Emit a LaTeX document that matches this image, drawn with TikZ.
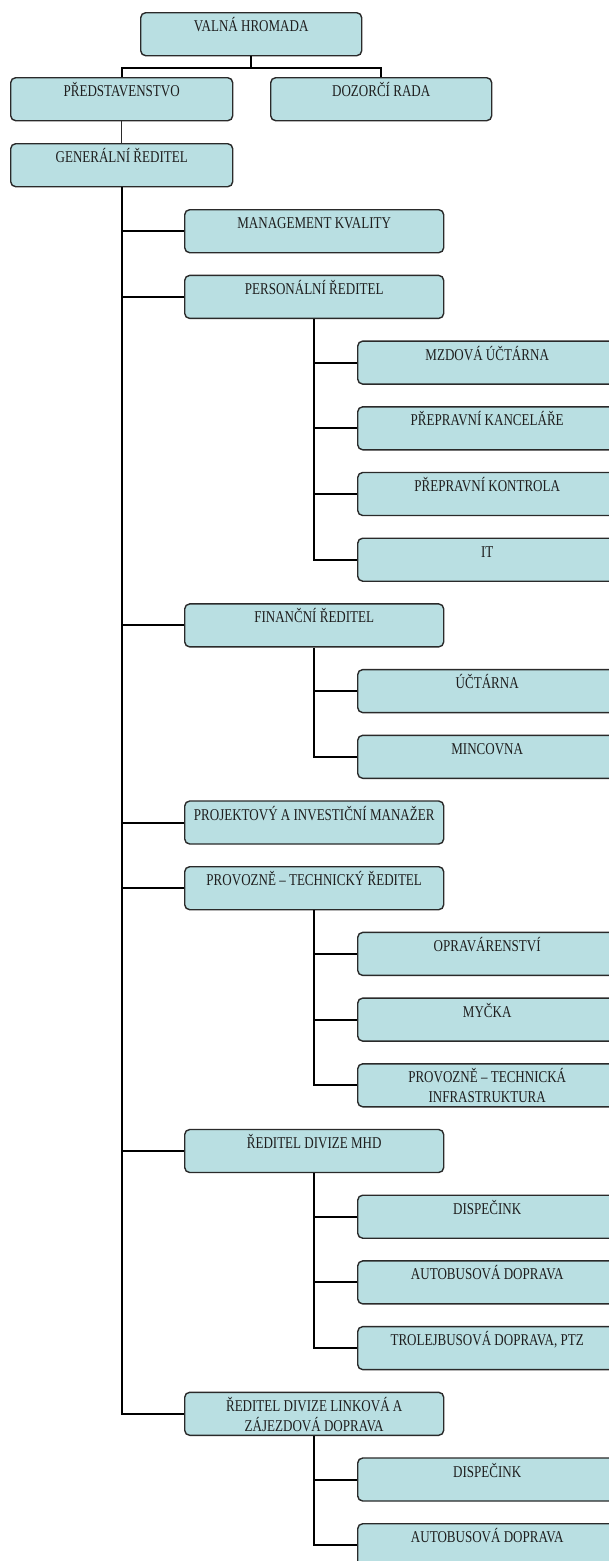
\documentclass[tikz,border=0pt]{standalone}
\usepackage{fontspec}
\setmainfont{Liberation Serif}[FakeStretch=0.79]
\definecolor{boxfill}{HTML}{B9DFE2}
\definecolor{boxline}{HTML}{2A2A2A}
\definecolor{txt}{HTML}{1E1E1E}
\tikzset{
  orgbox/.style={draw=boxline, line width=1.4pt, fill=boxfill, rounded corners=5pt,
    inner sep=0pt, minimum height=43pt, anchor=north west, text=txt},
  conn/.style={draw=black, line width=2pt},
}
\newcommand\orgbox[5]{%
  \node[orgbox, minimum width=#4pt] (#1) at (#2,#3)
  {\parbox[t][43pt][t]{#4pt}{\fontsize{16.5}{20}\selectfont\centering\rule{0pt}{19pt}#5}};}
\begin{document}
\begin{tikzpicture}[x=1pt,y=-1pt]
\useasboundingbox (0,0) rectangle (609,1561);
% top
\orgbox{valna}{140}{12}{221}{VALNÁ HROMADA}
\orgbox{pred}{10}{77}{222}{PŘEDSTAVENSTVO}
\orgbox{doz}{270}{77}{221}{DOZORČÍ RADA}
\orgbox{gen}{10}{143}{222}{GENERÁLNÍ ŘEDITEL}
% main column
\orgbox{mk}{184}{209}{259}{MANAGEMENT KVALITY}
\orgbox{pers}{184}{274.7}{259}{PERSONÁLNÍ ŘEDITEL}
\orgbox{fin}{184}{603.2}{259}{FINANČNÍ ŘEDITEL}
\orgbox{proj}{184}{800.3}{259}{PROJEKTOVÝ A INVESTIČNÍ MANAŽER}
\orgbox{prov}{184}{866}{259}{PROVOZNĚ – TECHNICKÝ ŘEDITEL}
\orgbox{mhd}{184}{1128.8}{259}{ŘEDITEL DIVIZE MHD}
\orgbox{lin}{184}{1391.6}{259}{ŘEDITEL DIVIZE LINKOVÁ A\\ZÁJEZDOVÁ DOPRAVA}
% sub column
\orgbox{mzd}{357}{340.4}{259}{MZDOVÁ ÚČTÁRNA}
\orgbox{kanc}{357}{406.1}{259}{PŘEPRAVNÍ KANCELÁŘE}
\orgbox{kont}{357}{471.8}{259}{PŘEPRAVNÍ KONTROLA}
\orgbox{it}{357}{537.5}{259}{IT}
\orgbox{uct}{357}{668.9}{259}{ÚČTÁRNA}
\orgbox{minc}{357}{734.6}{259}{MINCOVNA}
\orgbox{opr}{357}{931.7}{259}{OPRAVÁRENSTVÍ}
\orgbox{myc}{357}{997.4}{259}{MYČKA}
\orgbox{infra}{357}{1063.1}{259}{PROVOZNĚ – TECHNICKÁ\\INFRASTRUKTURA}
\orgbox{disa}{357}{1194.5}{259}{DISPEČINK}
\orgbox{auta}{357}{1260.2}{259}{AUTOBUSOVÁ DOPRAVA}
\orgbox{trol}{357}{1325.9}{259}{TROLEJBUSOVÁ DOPRAVA, PTZ}
\orgbox{disb}{357}{1457.3}{259}{DISPEČINK}
\orgbox{autb}{357}{1523}{259}{AUTOBUSOVÁ DOPRAVA}
% connectors top
\draw[conn] (valna.south) -- ++(0,12) -| (pred.north);
\draw[conn] (valna.south) -- ++(0,12) -| (doz.north);
\draw[conn, draw=boxline, line width=1.2pt] (pred.south) -- (gen.north);
% trunk
\draw[conn] (gen.south) |- (lin.west);
\foreach \n in {mk,pers,fin,proj,prov,mhd}
  \draw[conn] (gen.south |- \n.west) -- (\n.west);
% branches
\draw[conn] (pers.south) |- (it.west);
\foreach \n in {mzd,kanc,kont}
  \draw[conn] (pers.south |- \n.west) -- (\n.west);
\draw[conn] (fin.south) |- (minc.west);
\draw[conn] (fin.south |- uct.west) -- (uct.west);
\draw[conn] (prov.south) |- (infra.west);
\foreach \n in {opr,myc}
  \draw[conn] (prov.south |- \n.west) -- (\n.west);
\draw[conn] (mhd.south) |- (trol.west);
\foreach \n in {disa,auta}
  \draw[conn] (mhd.south |- \n.west) -- (\n.west);
\draw[conn] (lin.south) |- (autb.west);
\draw[conn] (lin.south |- disb.west) -- (disb.west);
\end{tikzpicture}
\end{document}
